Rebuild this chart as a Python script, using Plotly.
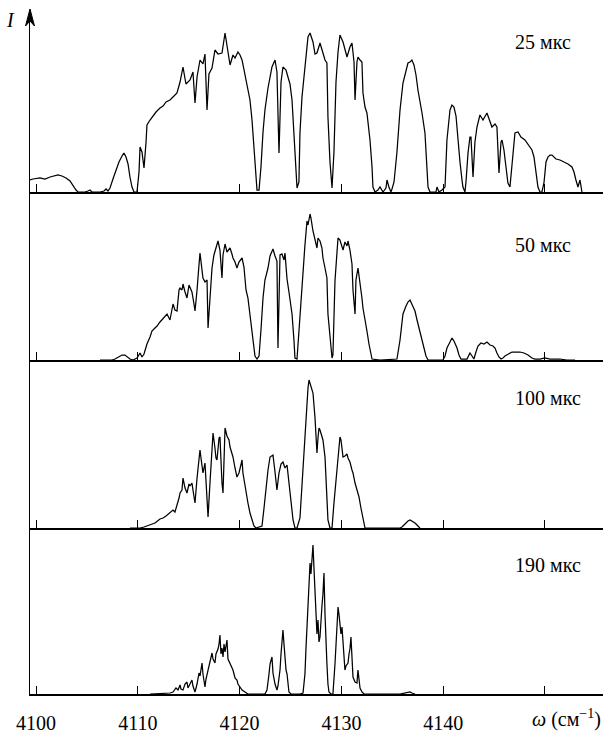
import plotly.graph_objects as go

# ---- data (wavenumber, cm^-1 ; intensity, arbitrary units) ----
w25 = [4099.41,4099.71,4100.39,4100.88,4101.38,4101.87,4102.16,4102.55,4102.95,4103.34,4103.63,4103.93,4104.13,4104.81,4105.11,4105.30,4105.50,4106.29,4106.68,4106.88,4107.07,4107.27,4107.56,4107.86,4108.15,4108.45,4108.64,4108.84,4109.04,4109.23,4109.43,4109.63,4109.92,4110.12,4110.22,4110.41,4110.61,4110.81,4110.90,4111.20,4111.49,4111.79,4112.18,4112.48,4112.77,4113.16,4113.46,4113.85,4114.15,4114.44,4114.73,4115.13,4115.42,4115.62,4115.82,4116.11,4116.40,4116.60,4116.80,4116.99,4117.29,4117.58,4117.88,4118.27,4118.57,4118.86,4119.06,4119.35,4119.55,4119.84,4120.04,4120.24,4120.43,4120.63,4120.73,4121.02,4121.22,4121.41,4121.61,4121.71,4121.91,4122.10,4122.30,4122.49,4122.79,4122.99,4123.18,4123.48,4123.67,4123.87,4124.07,4124.26,4124.56,4124.75,4124.95,4125.15,4125.34,4125.54,4125.64,4125.83,4125.93,4126.13,4126.42,4126.72,4126.92,4127.21,4127.41,4127.60,4127.90,4128.19,4128.39,4128.58,4128.68,4128.88,4129.08,4129.27,4129.47,4129.67,4129.86,4130.16,4130.55,4130.84,4131.04,4131.24,4131.34,4131.53,4131.63,4131.83,4132.02,4132.12,4132.32,4132.51,4132.81,4133.01,4133.10,4133.30,4133.59,4133.79,4134.09,4134.38,4134.48,4134.67,4134.87,4134.97,4135.17,4135.46,4135.76,4136.05,4136.35,4136.54,4136.74,4136.93,4137.13,4137.33,4137.52,4137.72,4137.92,4138.21,4138.41,4138.51,4138.70,4139.29,4139.39,4139.59,4139.88,4140.18,4140.37,4140.57,4140.67,4140.86,4141.06,4141.26,4141.45,4141.65,4141.85,4141.94,4142.14,4142.24,4142.44,4142.63,4142.73,4142.93,4143.12,4143.32,4143.61,4143.91,4144.30,4144.60,4144.79,4145.09,4145.28,4145.48,4145.68,4145.78,4145.97,4146.17,4146.36,4146.56,4146.76,4147.05,4147.35,4147.64,4148.03,4148.33,4148.72,4148.92,4149.12,4149.31,4149.51,4149.70,4149.90,4150.10,4150.29,4150.49,4150.69,4151.08,4151.47,4151.86,4152.26,4152.65,4152.85,4153.04,4153.24,4153.44,4153.63]
i25 = [12,13,14,13,15,16,17,16,14,11,6,2,0,0,1,2,0,0,1,3,1,4,13,22,30,36,39,35,28,15,5,0,0,20,45,40,24,50,67,72,76,80,84,86,90,92,95,99,110,125,108,112,120,89,115,132,128,138,82,118,124,142,138,139,159,140,127,137,134,140,137,132,122,115,107,92,72,48,18,2,2,25,60,82,104,117,125,132,120,39,110,125,122,115,108,92,60,20,4,10,59,95,125,155,159,150,138,139,149,140,132,129,75,30,4,40,110,140,157,150,135,145,149,130,92,130,135,132,130,99,85,79,52,25,5,0,2,5,0,4,12,5,0,3,10,40,82,109,122,129,130,132,127,117,102,88,79,59,30,5,0,0,5,0,2,5,52,70,82,87,85,76,52,30,12,5,0,10,39,55,55,15,50,65,77,72,79,70,65,68,65,19,50,52,42,25,9,5,30,59,60,55,52,48,42,35,20,5,0,0,9,30,35,37,37,33,32,30,28,25,20,12,5,12,0]

w50 = [4106.29,4107.47,4107.76,4108.05,4108.45,4108.74,4109.04,4109.23,4109.53,4109.92,4110.22,4110.41,4110.61,4110.90,4111.20,4111.39,4111.69,4111.89,4112.18,4112.48,4112.67,4112.87,4113.16,4113.36,4113.46,4113.65,4113.85,4114.05,4114.15,4114.34,4114.44,4114.64,4114.83,4115.03,4115.13,4115.32,4115.52,4115.62,4115.82,4115.91,4116.01,4116.11,4116.21,4116.40,4116.60,4116.80,4116.90,4117.09,4117.29,4117.48,4117.58,4117.78,4117.88,4118.07,4118.27,4118.37,4118.57,4118.76,4119.06,4119.25,4119.35,4119.55,4119.74,4119.94,4120.24,4120.43,4120.53,4120.63,4120.82,4121.02,4121.22,4121.41,4121.51,4121.71,4121.91,4122.10,4122.30,4122.49,4122.79,4122.99,4123.18,4123.28,4123.48,4123.67,4123.77,4123.87,4123.97,4124.16,4124.36,4124.46,4124.56,4124.66,4124.85,4125.05,4125.15,4125.34,4125.44,4125.64,4125.83,4125.93,4126.13,4126.23,4126.42,4126.62,4126.72,4126.92,4127.01,4127.21,4127.41,4127.60,4127.70,4127.90,4128.09,4128.19,4128.39,4128.58,4128.68,4128.88,4129.08,4129.17,4129.37,4129.57,4129.67,4129.86,4130.06,4130.16,4130.35,4130.55,4130.65,4130.84,4131.04,4131.14,4131.34,4131.43,4131.63,4131.83,4132.02,4132.12,4132.32,4132.51,4132.71,4132.91,4133.01,4133.79,4135.46,4135.76,4136.05,4136.35,4136.54,4136.74,4136.93,4137.13,4137.23,4137.43,4137.72,4138.02,4138.31,4138.51,4139.98,4140.18,4140.37,4140.67,4140.86,4141.06,4141.36,4141.55,4141.75,4142.34,4142.53,4142.63,4142.83,4143.02,4143.22,4143.42,4143.71,4144.01,4144.30,4144.60,4144.89,4145.09,4145.28,4145.48,4145.68,4145.87,4146.07,4146.36,4146.76,4147.15,4147.54,4147.94,4148.33,4148.72,4149.02,4149.51,4150.00,4150.49,4151.47,4152.16,4152.95]
i50 = [0,0,1,3,5,5,3,1,0,2,7,3,6,16,23,29,32,34,38,42,44,46,40,52,56,50,49,70,72,70,76,68,62,75,72,68,56,49,70,79,95,107,100,82,78,80,32,60,92,105,109,115,119,110,82,105,116,108,112,106,102,98,92,98,102,93,79,70,62,45,29,12,4,1,4,30,62,80,92,104,109,111,104,99,12,80,105,106,100,107,95,81,68,52,46,20,2,1,30,46,80,96,115,139,135,146,142,129,120,112,122,119,112,102,92,82,46,20,2,5,79,108,122,120,112,110,118,114,119,110,96,70,46,80,92,79,62,52,42,29,16,6,1,0,1,20,46,54,58,60,56,52,49,40,28,14,4,0,0,4,12,18,22,19,12,5,1,1,5,7,4,1,8,14,17,16,18,15,14,12,7,3,1,2,4,6,8,8,8,7,5,2,1,1,2,1,1,0,0]

w100 = [4109.23,4110.22,4110.61,4110.90,4111.20,4111.69,4112.18,4112.48,4112.77,4113.16,4113.46,4113.65,4113.85,4114.05,4114.15,4114.34,4114.44,4114.64,4114.83,4115.03,4115.13,4115.32,4115.42,4115.62,4115.82,4116.01,4116.11,4116.21,4116.40,4116.60,4116.70,4116.80,4116.90,4117.09,4117.29,4117.39,4117.58,4117.68,4117.78,4117.98,4118.07,4118.17,4118.27,4118.37,4118.47,4118.57,4118.76,4118.96,4119.06,4119.25,4119.35,4119.55,4119.74,4119.94,4120.14,4120.24,4120.33,4120.53,4120.73,4120.82,4121.02,4121.22,4121.41,4121.61,4122.20,4122.40,4122.59,4122.79,4122.99,4123.18,4123.28,4123.48,4123.67,4123.87,4124.07,4124.26,4124.46,4124.66,4124.85,4124.95,4125.15,4125.25,4125.44,4125.64,4125.93,4126.13,4126.33,4126.52,4126.62,4126.72,4126.82,4126.92,4127.11,4127.21,4127.41,4127.50,4127.60,4127.70,4127.80,4127.90,4128.09,4128.19,4128.39,4128.49,4128.58,4128.68,4128.88,4129.08,4129.27,4129.47,4129.67,4129.86,4129.96,4130.16,4130.35,4130.55,4130.65,4130.84,4131.04,4131.14,4131.34,4131.53,4131.73,4131.92,4132.12,4132.32,4135.76,4135.95,4136.25,4136.54,4136.74,4136.93,4137.23,4137.52,4137.72]
i100 = [0,0,1,2,3,5,9,10,12,15,18,16,22,30,35,38,50,40,35,44,42,45,38,25,50,65,78,70,55,65,50,30,11,45,78,95,80,70,68,90,91,60,45,35,80,100,92,88,81,75,71,60,51,55,64,68,55,41,30,25,15,8,2,0,2,20,40,58,71,72,73,56,38,55,64,66,60,63,45,31,15,8,0,0,10,45,80,115,125,140,148,145,138,135,110,95,75,90,100,98,90,88,71,50,31,8,0,0,25,50,72,91,88,71,72,74,70,66,58,55,45,38,31,20,8,0,0,1,4,7,8,7,5,2,0]

w190 = [4111.20,4112.48,4113.16,4113.46,4113.75,4113.95,4114.15,4114.24,4114.44,4114.64,4114.83,4114.93,4115.13,4115.32,4115.42,4115.62,4115.82,4116.01,4116.11,4116.31,4116.40,4116.60,4116.70,4116.90,4117.09,4117.29,4117.39,4117.58,4117.68,4117.88,4117.98,4118.07,4118.17,4118.27,4118.37,4118.47,4118.57,4118.76,4118.86,4119.06,4119.25,4119.35,4119.55,4119.74,4119.84,4120.04,4120.24,4120.53,4120.82,4122.49,4122.69,4122.89,4122.99,4123.18,4123.28,4123.48,4123.67,4123.77,4123.97,4124.07,4124.16,4124.26,4124.36,4124.46,4124.56,4124.66,4124.75,4124.85,4125.05,4125.93,4126.23,4126.42,4126.52,4126.62,4126.72,4126.82,4126.92,4127.01,4127.11,4127.21,4127.31,4127.41,4127.50,4127.60,4127.70,4127.80,4127.90,4128.00,4128.09,4128.19,4128.29,4128.39,4128.49,4128.58,4128.68,4128.78,4128.98,4129.17,4129.37,4129.47,4129.57,4129.67,4129.76,4129.86,4129.96,4130.06,4130.16,4130.25,4130.35,4130.45,4130.55,4130.65,4130.75,4130.84,4130.94,4131.04,4131.14,4131.34,4131.53,4131.63,4131.73,4131.83,4132.02,4132.22,4135.76,4136.54,4136.74,4136.93,4137.23]
i190 = [0,1,1,2,6,4,9,5,4,10,12,6,11,14,8,2,10,21,18,31,20,7,15,24,30,41,35,31,40,45,50,59,40,46,37,50,42,54,35,31,26,24,16,14,10,7,4,2,0,0,4,20,30,37,21,10,4,8,24,40,55,64,50,30,24,20,10,2,0,0,1,20,45,67,85,110,131,120,140,149,125,101,85,60,74,52,57,78,88,100,121,80,44,30,10,2,0,0,30,50,74,87,80,70,60,67,50,40,24,28,30,31,40,45,57,30,17,12,11,24,14,6,2,0,0,1,2,1,0]

panel_labels = ["25 мкс", "50 мкс", "100 мкс", "190 мкс"]
label_ticks = [4100, 4110, 4120, 4130, 4140]
label_text = ["4100", "4110", "4120", "4130", "4140"]
extra_ticks = [4150]
x_title = "<i>ω</i> (см<sup>−1</sup>)"
y_title = "<i>I</i>"

series = [(w25, i25), (w50, i50), (w100, i100), (w190, i190)]

# ---- layout geometry (pixels in a 605x734 page) ----
W, H = 605, 734
baselines = [192, 360, 528, 694]
tops = [10, 192, 360, 528]
y_ranges = [182, 168, 168, 166]
x_left, x_right = 30, 603
x_range = [4099.41, 4155.70]
font_family = "Liberation Serif"

fig = go.Figure()
layout = dict(
    width=W, height=H, autosize=False,
    margin=dict(l=0, r=0, t=0, b=0, pad=0),
    paper_bgcolor="white", plot_bgcolor="white",
    showlegend=False,
    font=dict(family=font_family, size=20, color="black"),
)

for k, ((wx, iy), lab) in enumerate(zip(series, panel_labels)):
    n = k + 1
    xa = "x" if n == 1 else f"x{n}"
    ya = "y" if n == 1 else f"y{n}"
    fig.add_trace(go.Scatter(x=wx, y=iy, mode="lines",
                             line=dict(color="black", width=1.25),
                             xaxis=xa, yaxis=ya, hoverinfo="skip"))
    ydom = [1 - baselines[k] / H, 1 - tops[k] / H]
    layout["xaxis" if n == 1 else f"xaxis{n}"] = dict(
        domain=[x_left / W, x_right / W], range=x_range, anchor=ya,
        showline=True, linecolor="black", linewidth=2,
        ticks="inside", ticklen=8, tickwidth=1.2, tickcolor="black",
        tickmode="array", tickvals=label_ticks, ticktext=label_text,
        minor=dict(tickmode="array", tickvals=extra_ticks, ticks="inside",
                   ticklen=8, tickwidth=1.2, tickcolor="black", showgrid=False),
        showticklabels=(n == 4), ticklabelstandoff=10, automargin=False,
        tickfont=dict(family=font_family, size=20, color="black"),
        showgrid=False, zeroline=False,
    )
    layout["yaxis" if n == 1 else f"yaxis{n}"] = dict(
        domain=ydom, range=[0, y_ranges[k]], anchor=xa, automargin=False,
        showline=True, linecolor="black", linewidth=1.3,
        showticklabels=False, ticks="", showgrid=False, zeroline=False,
    )

fig.update_layout(**layout)

label_y = [42, 245, 398, 565]
for lab, py in zip(panel_labels, label_y):
    fig.add_annotation(text=lab, xref="paper", yref="paper",
                       x=513 / W, y=1 - py / H, xanchor="left", yanchor="middle",
                       showarrow=False, font=dict(family=font_family, size=20, color="black"))

fig.add_annotation(text=y_title, xref="paper", yref="paper",
                   x=10 / W, y=1 - 20 / H, xanchor="center", yanchor="middle",
                   showarrow=False, font=dict(family=font_family, size=20, color="black"))
fig.add_annotation(text=x_title, xref="paper", yref="paper",
                   x=603 / W, y=1 - 718 / H, xanchor="right", yanchor="middle",
                   showarrow=False, font=dict(family=font_family, size=20, color="black"))

# arrow head on the intensity axis
def px(xp, yp):
    return f"{xp / W:.5f},{1 - yp / H:.5f}"
fig.add_shape(type="path", xref="paper", yref="paper",
              path=f"M {px(25.5, 26)} L {px(30, 9)} L {px(34.5, 26)} L {px(30, 21)} Z",
              fillcolor="black", line=dict(color="black", width=1))

fig.write_html("out.html", config={"responsive": False, "displayModeBar": False},
               post_script="document.body.style.margin='0';document.body.style.padding='0';document.body.style.overflow='hidden';")
